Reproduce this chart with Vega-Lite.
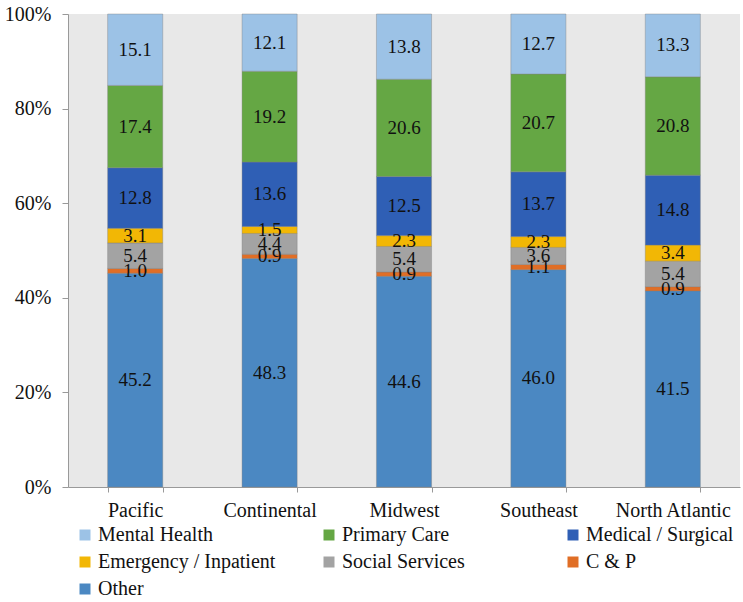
{
  "$schema": "https://vega.github.io/schema/vega-lite/v6.json",
  "width": 672,
  "height": 473,
  "autosize": {"type": "none"},
  "padding": {"left": 68, "top": 14, "right": 3, "bottom": 115},
  "background": "white",
  "config": {
    "view": {"fill": "#e8e8e8", "stroke": null},
    "font": "'Liberation Serif', 'DejaVu Serif', serif"
  },
  "data": {
    "values": [
      {"region": "Pacific", "category": "Other", "ord": 1, "value": 45.2},
      {"region": "Pacific", "category": "C & P", "ord": 2, "value": 1.0},
      {"region": "Pacific", "category": "Social Services", "ord": 3, "value": 5.4},
      {"region": "Pacific", "category": "Emergency / Inpatient", "ord": 4, "value": 3.1},
      {"region": "Pacific", "category": "Medical / Surgical", "ord": 5, "value": 12.8},
      {"region": "Pacific", "category": "Primary Care", "ord": 6, "value": 17.4},
      {"region": "Pacific", "category": "Mental Health", "ord": 7, "value": 15.1},
      {"region": "Continental", "category": "Other", "ord": 1, "value": 48.3},
      {"region": "Continental", "category": "C & P", "ord": 2, "value": 0.9},
      {"region": "Continental", "category": "Social Services", "ord": 3, "value": 4.4},
      {"region": "Continental", "category": "Emergency / Inpatient", "ord": 4, "value": 1.5},
      {"region": "Continental", "category": "Medical / Surgical", "ord": 5, "value": 13.6},
      {"region": "Continental", "category": "Primary Care", "ord": 6, "value": 19.2},
      {"region": "Continental", "category": "Mental Health", "ord": 7, "value": 12.1},
      {"region": "Midwest", "category": "Other", "ord": 1, "value": 44.6},
      {"region": "Midwest", "category": "C & P", "ord": 2, "value": 0.9},
      {"region": "Midwest", "category": "Social Services", "ord": 3, "value": 5.4},
      {"region": "Midwest", "category": "Emergency / Inpatient", "ord": 4, "value": 2.3},
      {"region": "Midwest", "category": "Medical / Surgical", "ord": 5, "value": 12.5},
      {"region": "Midwest", "category": "Primary Care", "ord": 6, "value": 20.6},
      {"region": "Midwest", "category": "Mental Health", "ord": 7, "value": 13.8},
      {"region": "Southeast", "category": "Other", "ord": 1, "value": 46.0},
      {"region": "Southeast", "category": "C & P", "ord": 2, "value": 1.1},
      {"region": "Southeast", "category": "Social Services", "ord": 3, "value": 3.6},
      {"region": "Southeast", "category": "Emergency / Inpatient", "ord": 4, "value": 2.3},
      {"region": "Southeast", "category": "Medical / Surgical", "ord": 5, "value": 13.7},
      {"region": "Southeast", "category": "Primary Care", "ord": 6, "value": 20.7},
      {"region": "Southeast", "category": "Mental Health", "ord": 7, "value": 12.7},
      {"region": "North Atlantic", "category": "Other", "ord": 1, "value": 41.5},
      {"region": "North Atlantic", "category": "C & P", "ord": 2, "value": 0.9},
      {"region": "North Atlantic", "category": "Social Services", "ord": 3, "value": 5.4},
      {"region": "North Atlantic", "category": "Emergency / Inpatient", "ord": 4, "value": 3.4},
      {"region": "North Atlantic", "category": "Medical / Surgical", "ord": 5, "value": 14.8},
      {"region": "North Atlantic", "category": "Primary Care", "ord": 6, "value": 20.8},
      {"region": "North Atlantic", "category": "Mental Health", "ord": 7, "value": 13.3}
    ]
  },
  "encoding": {
    "x": {
      "field": "region",
      "type": "nominal",
      "sort": ["Pacific", "Continental", "Midwest", "Southeast", "North Atlantic"],
      "scale": {"paddingInner": 0.59, "paddingOuter": 0.295},
      "axis": {
        "title": null,
        "labelAngle": 0,
        "labelFont": "'Liberation Serif', 'DejaVu Serif', serif",
        "labelFontSize": 20,
        "labelColor": "#111",
        "labelPadding": 8,
        "domainColor": "#999",
        "tickColor": "#999",
        "tickBand": "extent",
        "tickSize": 5
      }
    }
  },
  "layer": [
    {
      "mark": {"type": "bar", "stroke": "#7f7f7f", "strokeWidth": 0.4},
      "encoding": {
        "y": {
          "field": "value",
          "type": "quantitative",
          "stack": "normalize",
          "scale": {"domain": [0, 1]},
          "axis": {
            "title": null,
            "format": ".0%",
            "values": [0, 0.2, 0.4, 0.6, 0.8, 1],
            "grid": false,
            "labelFont": "'Liberation Serif', 'DejaVu Serif', serif",
            "labelFontSize": 20,
            "labelColor": "#111",
            "labelPadding": 11,
            "domainColor": "#999",
            "tickColor": "#999",
            "tickSize": 6
          }
        },
        "order": {"field": "ord", "type": "quantitative", "sort": "ascending"},
        "color": {
          "field": "category",
          "type": "nominal",
          "scale": {
            "domain": ["Mental Health", "Primary Care", "Medical / Surgical", "Emergency / Inpatient", "Social Services", "C & P", "Other"],
            "range": ["#9cc2e6", "#65a744", "#2f5fb5", "#f2b705", "#a3a3a3", "#e06e26", "#4b88c2"]
          },
          "legend": {
            "title": null,
            "orient": "none",
            "legendX": 7,
            "legendY": 511,
            "direction": "horizontal",
            "columns": 3,
            "gridAlign": "all",
            "symbolType": "square",
            "symbolSize": 121,
            "symbolStrokeWidth": 0,
            "labelFont": "'Liberation Serif', 'DejaVu Serif', serif",
            "labelFontSize": 20,
            "labelColor": "#111",
            "labelOffset": 3,
            "rowPadding": 7,
            "columnPadding": 43,
            "labelLimit": 300
          }
        }
      }
    },
    {
      "mark": {"type": "text", "font": "'Liberation Serif', 'DejaVu Serif', serif", "fontSize": 19, "color": "#111", "baseline": "middle"},
      "encoding": {
        "y": {"field": "value", "type": "quantitative", "stack": "normalize", "bandPosition": 0.5},
        "order": {"field": "ord", "type": "quantitative", "sort": "ascending"},
        "detail": {"field": "category"},
        "text": {"field": "value", "type": "quantitative", "format": ".1f"}
      }
    }
  ]
}
